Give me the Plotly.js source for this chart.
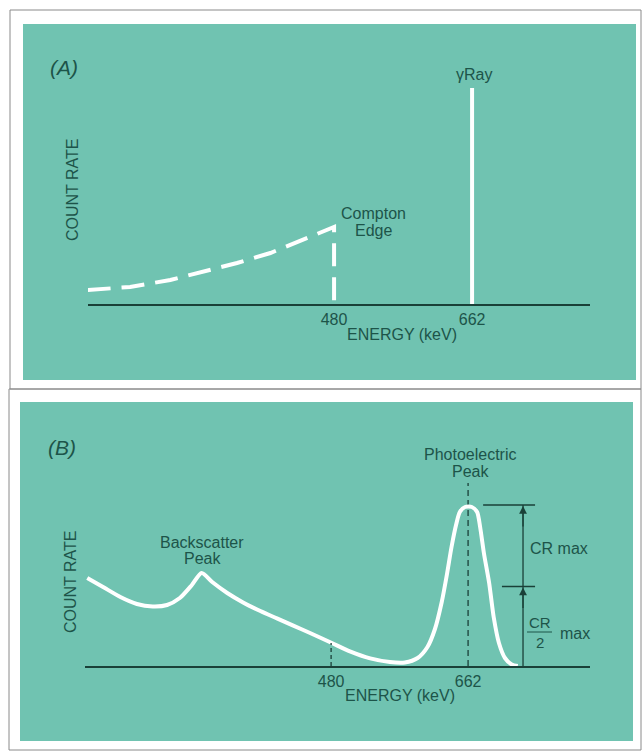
<!DOCTYPE html>
<html>
<head>
<meta charset="utf-8">
<script src="https://cdn.plot.ly/plotly-3.0.1.min.js"></script>
<style>html,body{margin:0;padding:0;background:#fff;}#chart{width:643px;height:754px;}</style>
</head>
<body>
<div id="chart"></div>
<script>
// ---- Data ----
// Panel A: Compton continuum (dashed) ending at the Compton edge, and the gamma-ray line
var comptonEnergy = [155, 211, 264, 307, 352, 396, 439, 480, 480];
var comptonCount  = [7, 8.5, 12, 16, 20.5, 25.5, 32, 38.5, 0];
var gammaEnergy = [662, 662];
var gammaCount  = [0, 108];

// Panel B: measured spectrum
var specEnergy = [156, 177, 200, 222, 243, 262, 279, 295, 308, 322, 342, 363, 386, 408, 429, 452, 481, 505,
                  532, 558, 578, 595, 608, 618, 627, 634, 640, 646, 651, 658, 667, 674, 678, 683, 690, 696,
                  703, 711, 720, 728];
var specCount  = [44, 39.5, 34.5, 31, 29.8, 30.5, 34, 40.5, 46.5, 42, 36.5, 31.8, 27.5, 23.8, 20.3, 16.5, 11.5, 7.3,
                  3.8, 2, 1.8, 4, 9.5, 18.5, 32, 46, 59.5, 70.5, 77, 79.5, 79.5, 77, 69.5, 56.5, 41.5, 24.5,
                  11.5, 4, 0.8, 0];

var tickValues = [480, 662];
var tickLabels = ['480', '662'];
var edgeEnergy = 480;      // Compton edge
var photoEnergy = 662;     // photoelectric peak

// ---- Style ----
var TEAL = '#70c3b1';
var INK = '#1d5449';
var AXIS = '#1a4038';
var FONT = 'Liberation Sans, Arial, sans-serif';
var W = 643, H = 754;
function fx(p){ return p / W; }
function fy(p){ return 1 - p / H; }

var peakMax = Math.max.apply(null, specCount);
var halfMax = peakMax / 2;
var bracketX = 735, bracketL = 682, bracketMidL = 707, bracketR = 751;

var traces = [
  {x: comptonEnergy, y: comptonCount, xaxis: 'x', yaxis: 'y', mode: 'lines',
   line: {color: '#ffffff', width: 4, dash: '23px,11px'}, hoverinfo: 'skip'},
  {x: gammaEnergy, y: gammaCount, xaxis: 'x', yaxis: 'y', mode: 'lines',
   line: {color: '#ffffff', width: 4}, hoverinfo: 'skip'},
  {x: specEnergy, y: specCount, xaxis: 'x2', yaxis: 'y2', mode: 'lines',
   line: {color: '#ffffff', width: 4, shape: 'spline', smoothing: 0.7}, hoverinfo: 'skip'}
];

function xax(domain, range){
  return {domain: domain, range: range, showgrid: false, zeroline: false,
    showline: true, linecolor: AXIS, linewidth: 2, ticks: '',
    tickvals: tickValues, ticktext: tickLabels, ticklabelstandoff: 0,
    tickfont: {family: FONT, size: 16, color: INK}, fixedrange: true};
}
function yax(domain){
  return {domain: domain, range: [0, 110], visible: false, fixedrange: true};
}

var shapes = [
  // panel backgrounds
  {type: 'rect', xref: 'paper', yref: 'paper', x0: fx(23), x1: fx(636), y0: fy(380), y1: fy(24),
   fillcolor: TEAL, line: {width: 0}, layer: 'below'},
  {type: 'rect', xref: 'paper', yref: 'paper', x0: fx(20), x1: fx(633), y0: fy(741), y1: fy(402),
   fillcolor: TEAL, line: {width: 0}, layer: 'below'},
  // frames
  {type: 'rect', xref: 'paper', yref: 'paper', x0: fx(10), x1: fx(641), y0: fy(389), y1: fy(10),
   line: {color: '#8a8a8a', width: 1}, layer: 'below'},
  {type: 'rect', xref: 'paper', yref: 'paper', x0: fx(9), x1: fx(641), y0: fy(750), y1: fy(389),
   line: {color: '#8a8a8a', width: 1}, layer: 'below'},
  // panel B: dashed markers
  {type: 'line', xref: 'x2', yref: 'y2', x0: edgeEnergy, x1: edgeEnergy, y0: 0, y1: 11.5,
   line: {color: AXIS, width: 1.3, dash: '4px,3px'}},
  {type: 'line', xref: 'x2', yref: 'y2', x0: photoEnergy, x1: photoEnergy, y0: 0, y1: 91.5,
   line: {color: AXIS, width: 1.3, dash: '6px,4px'}, layer: 'below'},
  // CR max bracket
  {type: 'line', xref: 'x2', yref: 'y2', x0: bracketL, x1: bracketR, y0: peakMax + 1, y1: peakMax + 1,
   line: {color: AXIS, width: 1.3}},
  {type: 'line', xref: 'x2', yref: 'y2', x0: bracketMidL, x1: bracketR, y0: halfMax, y1: halfMax,
   line: {color: AXIS, width: 1.3}},
  {type: 'line', xref: 'x2', yref: 'y2', x0: bracketX, x1: bracketX, y0: 0, y1: peakMax + 1,
   line: {color: AXIS, width: 1.3}},
  // fraction bar of CR/2
  {type: 'line', xref: 'paper', yref: 'paper', x0: fx(527), x1: fx(552), y0: fy(632), y1: fy(632),
   line: {color: INK, width: 1}}
];

function txt(text, x, y, size, extra){
  var a = {text: text, xref: 'paper', yref: 'paper', x: fx(x), y: fy(y), showarrow: false,
    xanchor: 'center', yanchor: 'middle', font: {family: FONT, size: size || 16, color: INK}};
  for (var k in extra) a[k] = extra[k];
  return a;
}

var annotations = [
  txt('<i>(A)</i>', 64, 67, 21),
  txt('γRay', 474, 75, 16),
  txt('Compton', 373, 213, 16),
  txt('Edge', 373, 230, 16),
  txt('ENERGY (keV)', 402, 334, 16),
  txt('COUNT RATE', 72, 190, 16, {textangle: -90}),
  txt('<i>(B)</i>', 62, 447, 21),
  txt('Backscatter', 202, 542, 16),
  txt('Peak', 202, 558, 16),
  txt('Photoelectric', 471, 454, 16),
  txt('Peak', 471, 471, 16),
  txt('ENERGY (keV)', 400, 695, 16),
  txt('COUNT RATE', 70, 582, 16, {textangle: -90}),
  txt('CR max', 528, 548, 16, {xanchor: 'left'}),
  txt('CR', 540, 622, 15),
  txt('2', 540, 642, 15),
  txt('max', 575, 633, 16),
  // arrowheads on the bracket
  {x: bracketX, y: peakMax + 0.5, xref: 'x2', yref: 'y2', text: '', showarrow: true,
   ax: 0, ay: 22, arrowhead: 2, arrowsize: 1.2, arrowwidth: 1.3, arrowcolor: AXIS},
  {x: bracketX, y: halfMax - 0.5, xref: 'x2', yref: 'y2', text: '', showarrow: true,
   ax: 0, ay: 22, arrowhead: 2, arrowsize: 1.2, arrowwidth: 1.3, arrowcolor: AXIS}
];

var layout = {
  width: W, height: H, margin: {l: 0, r: 0, t: 0, b: 0},
  paper_bgcolor: '#ffffff', plot_bgcolor: 'rgba(0,0,0,0)', showlegend: false,
  xaxis: xax([fx(88), fx(590)], [155.5, 817.5]),
  yaxis: yax([fy(304), fy(84)]),
  xaxis2: xax([fx(85), fx(590)], [153, 824]),
  yaxis2: yax([fy(666), fy(446)]),
  shapes: shapes, annotations: annotations
};
layout.xaxis.anchor = 'y';
layout.yaxis.anchor = 'x';
layout.xaxis2.anchor = 'y2';
layout.yaxis2.anchor = 'x2';

Plotly.newPlot('chart', traces, layout, {staticPlot: true, displayModeBar: false});
</script>
</body>
</html>
